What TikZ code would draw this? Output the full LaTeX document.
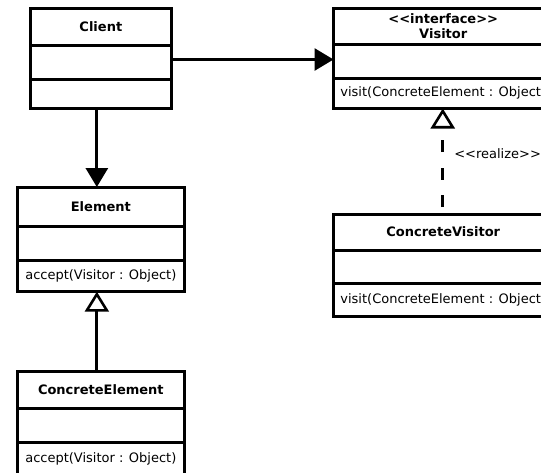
\documentclass[tikz,border=0pt]{standalone}
\usepackage{fontspec}
\newfontfamily\umlfont{DejaVu Sans}
\usetikzlibrary{arrows.meta}
\begin{document}
\begin{tikzpicture}[x=1pt,y=-1pt,
  comp/.style={draw, line width=3pt, rectangle, inner sep=0pt, outer sep=0pt,
    align=center, font=\umlfont\fontsize{13}{15}\selectfont},
  classname/.style={comp, font=\umlfont\bfseries\fontsize{13}{15}\selectfont},
  leftcol/.style={minimum width=140.3pt},
  wide/.style={minimum width=219.5pt},
  elemcol/.style={minimum width=167.7pt},
  assoc/.style={line width=3pt, -{Triangle[length=19pt,width=22pt]}},
  inherit/.style={line width=3pt, -{Triangle[open,length=20pt,width=24pt,line width=2.6pt,fill=white]}},
  realize/.style={inherit, dash pattern=on 12pt off 15.5pt, dash phase=20.5pt},
  lbl/.style={inner sep=0pt, font=\umlfont\fontsize{13}{15}\selectfont}
]
\useasboundingbox (0,0) rectangle (541,472);
\fill[white] (0,0) rectangle (541,472);
\clip (0,0) rectangle (541,472);

% Client
\node[classname, leftcol, minimum height=36.5pt] (client-name) at (100.85,26.75) {Client};
\node[comp, leftcol, minimum height=34pt] (client-attr) at (100.85,62) {};
\node[comp, leftcol, minimum height=29pt] (client-ops) at (100.85,93.5) {};

% Visitor interface
\node[classname, wide, minimum height=36pt] (vis-name) at (443.25,26) {<<interface>>\\Visitor};
\node[comp, wide, minimum height=34pt] (vis-attr) at (443.25,61) {};
\node[comp, wide, minimum height=30.5pt] (vis-ops) at (443.25,93.25) {visit(ConcreteElement : Object)};

% ConcreteVisitor
\node[classname, wide, minimum height=36pt] (cvis-name) at (443.25,232) {ConcreteVisitor};
\node[comp, wide, minimum height=33.5pt] (cvis-attr) at (443.25,266.75) {};
\node[comp, wide, minimum height=33pt] (cvis-ops) at (443.25,300) {visit(ConcreteElement : Object)};

% Element
\node[classname, elemcol, minimum height=39.7pt] (elem-name) at (100.85,206.85) {Element};
\node[comp, elemcol, minimum height=33.3pt] (elem-attr) at (100.85,243.35) {};
\node[comp, elemcol, minimum height=31.7pt] (elem-ops) at (100.85,275.85) {accept(Visitor : Object)};

% ConcreteElement
\node[classname, elemcol, minimum height=37.5pt] (celem-name) at (100.85,389.75) {ConcreteElement};
\node[comp, elemcol, minimum height=33.5pt] (celem-attr) at (100.85,425.25) {};
\node[comp, elemcol, minimum height=34pt] (celem-ops) at (100.85,459) {accept(Visitor : Object)};

% Connectors
\draw[assoc] ([yshift=2.5pt]client-attr.east) -- ([yshift=2.5pt]client-attr.east -| vis-attr.west);
\draw[assoc] ([xshift=-4pt]client-ops.south) -- ([xshift=-4pt]client-ops.south |- elem-name.north);
\draw[inherit] ([xshift=-4pt]celem-name.north) -- ([xshift=-4pt]celem-name.north |- elem-ops.south);
\draw[realize] ([xshift=-0.5pt]cvis-name.north) -- ([xshift=-0.5pt]cvis-name.north |- vis-ops.south)
  node[lbl, midway, anchor=west, xshift=10pt, yshift=8pt] (realize-label) {<<realize>>};
\end{tikzpicture}
\end{document}
